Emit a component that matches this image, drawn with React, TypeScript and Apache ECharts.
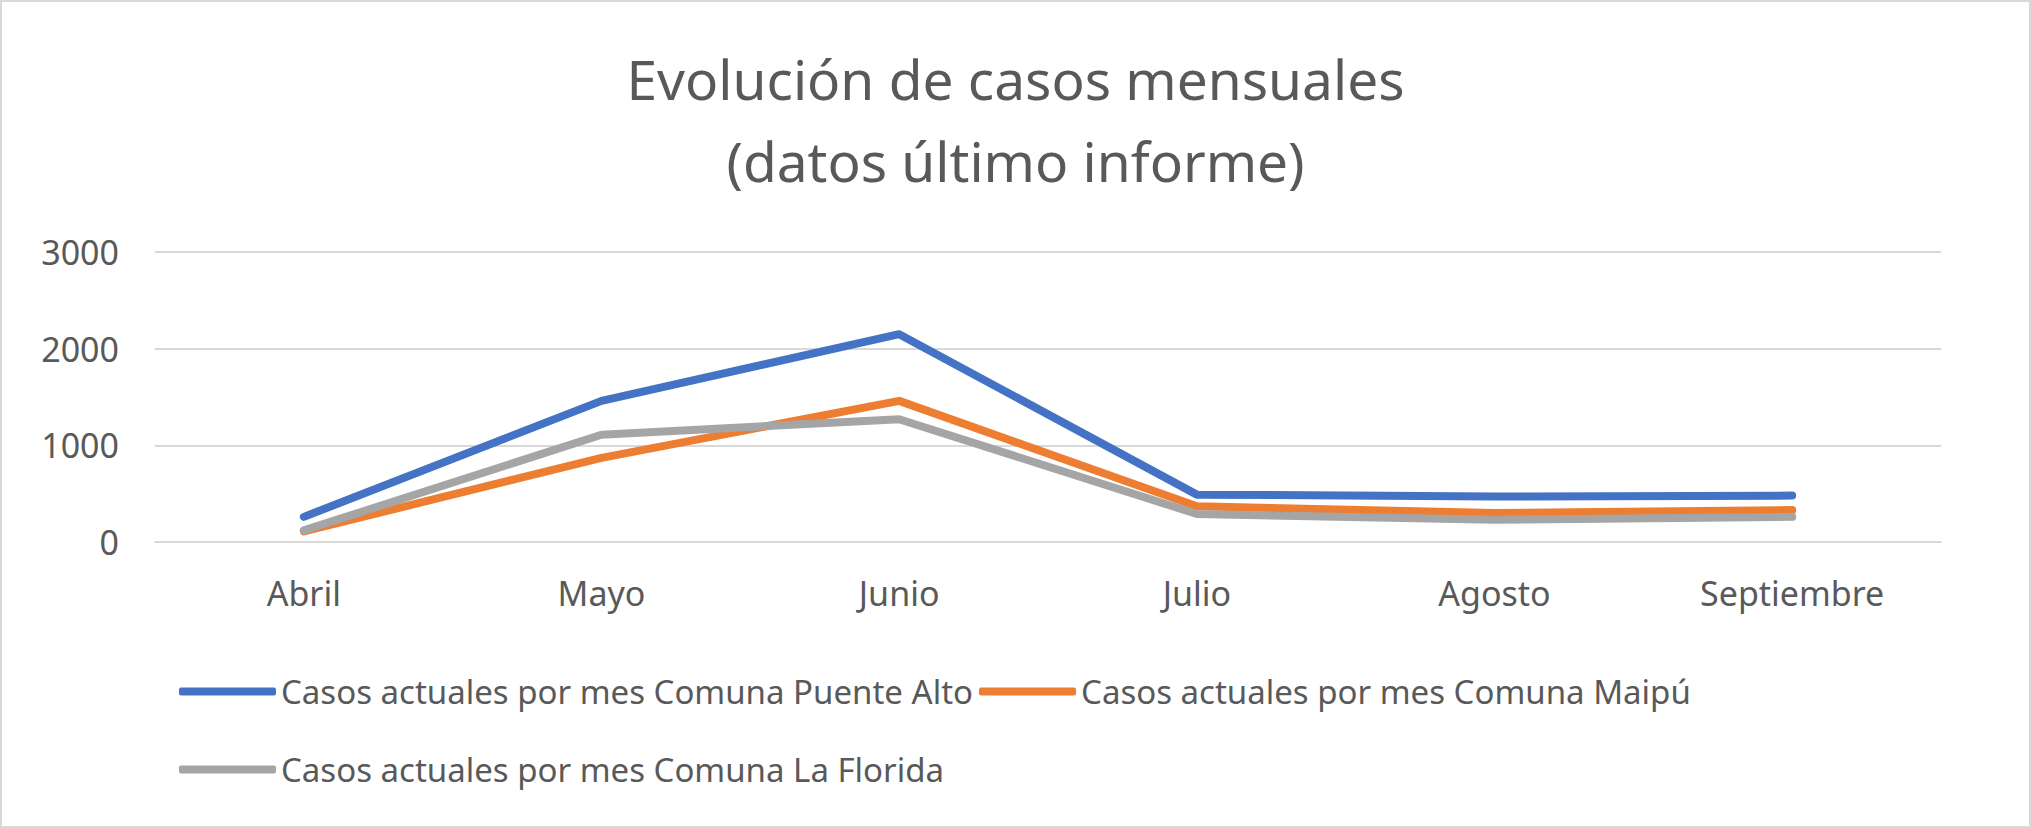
import React, { useEffect, useRef } from "react";
import * as echarts from "echarts";

const categories = ["Abril", "Mayo", "Junio", "Julio", "Agosto", "Septiembre"];
const puenteAlto = [260, 1460, 2150, 490, 470, 480];
const maipu = [110, 870, 1460, 370, 300, 330];
const laFlorida = [120, 1110, 1270, 290, 230, 260];
const seriesNames = [
  "Casos actuales por mes Comuna Puente Alto",
  "Casos actuales por mes Comuna Maipú",
  "Casos actuales por mes Comuna La Florida",
];
const yTicks = { min: 0, max: 3000, interval: 1000 };

export default function App() {
  const ref = useRef<HTMLDivElement>(null);
  useEffect(() => {
    const chart = echarts.init(ref.current!, null, { renderer: "svg" });
    const font = "Noto Sans";
    const txt = "#595959";
    const legendBase = {
      itemWidth: 97,
      itemHeight: 8,
      icon: "roundRect",
      itemGap: 6,
      textStyle: { color: txt, fontSize: 33, fontFamily: font },
    };
    chart.setOption({
      animation: false,
      title: {
        text: "Evolución de casos mensuales\n(datos último informe)",
        left: "center",
        top: 30,
        textStyle: { color: txt, fontSize: 55, fontWeight: "normal", fontFamily: font, lineHeight: 82 },
      },
      grid: { left: 153, right: 88, top: 250, bottom: 284 },
      legend: [
        { ...legendBase, data: [seriesNames[0], seriesNames[1]], left: 172, top: 668 },
        { ...legendBase, data: [seriesNames[2]], left: 172, top: 746 },
      ],
      xAxis: {
        type: "category",
        data: categories,
        boundaryGap: true,
        axisLine: { lineStyle: { color: "#d9d9d9", width: 2 } },
        axisTick: { show: false },
        axisLabel: { color: txt, fontSize: 34, fontFamily: font, margin: 34 },
      },
      yAxis: {
        type: "value",
        ...yTicks,
        axisLine: { show: false },
        splitLine: { lineStyle: { color: "#d9d9d9", width: 2 } },
        axisLabel: { color: txt, fontSize: 34, fontFamily: font, margin: 36, formatter: (v: number) => String(v) },
      },
      series: [
        { name: seriesNames[0], type: "line", data: puenteAlto, color: "#4472c4" },
        { name: seriesNames[1], type: "line", data: maipu, color: "#ed7d31" },
        { name: seriesNames[2], type: "line", data: laFlorida, color: "#a5a5a5" },
      ].map((s) => ({ ...s, symbol: "none", lineStyle: { width: 8, cap: "round", join: "round" } })),
    });
    return () => chart.dispose();
  }, []);
  return (
    <div
      ref={ref}
      style={{ position: "absolute", left: 0, top: 0, width: 2031, height: 828, background: "#fff", border: "2px solid #d9d9d9", boxSizing: "border-box" }}
    />
  );
}
